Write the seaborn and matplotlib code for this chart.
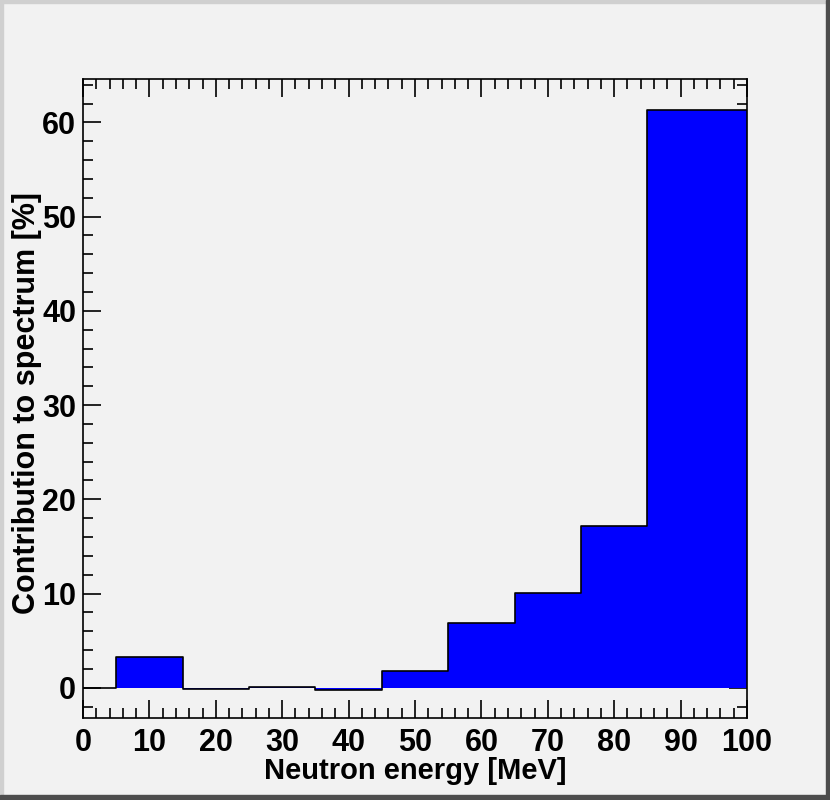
import numpy as np
import seaborn as sns
import matplotlib
matplotlib.use("Agg")
import matplotlib.pyplot as plt
from matplotlib.patches import Rectangle
from matplotlib.ticker import MultipleLocator

# histogram data: neutron energy bins and contribution (%)
bin_edges = [0, 5, 15, 25, 35, 45, 55, 65, 75, 85, 100]
contribution = [0.0, 3.3, -0.1, 0.05, -0.25, 1.8, 6.9, 10.1, 17.2, 61.3]
x_ticks = [0, 10, 20, 30, 40, 50, 60, 70, 80, 90, 100]
y_ticks = [0, 10, 20, 30, 40, 50, 60]

centers = [(a + b) / 2 for a, b in zip(bin_edges[:-1], bin_edges[1:])]

sns.set_style("ticks")
plt.rcParams['font.family'] = ['Liberation Sans', 'DejaVu Sans']
plt.rcParams['font.weight'] = 'bold'
for k in ['text.color', 'axes.labelcolor', 'xtick.color', 'ytick.color']:
    plt.rcParams[k] = 'black'

bg = "#f2f2f2"
fig = plt.figure(figsize=(8.3, 8.0), dpi=100, facecolor=bg)
ax = fig.add_axes([0.1, 0.1025, 0.8, 0.79875])
ax.set_facecolor(bg)

# filled part (no outline) and black step outline on top
sns.histplot(x=centers, weights=contribution, bins=bin_edges, element="step",
             fill=True, color="#0000ff", alpha=1, linewidth=0, ax=ax)
sns.histplot(x=centers, weights=contribution, bins=bin_edges, element="step",
             fill=False, color="black", linewidth=1.2, ax=ax)

ax.set_xlim(0, 100)
ax.set_ylim(-3.2, 64.6)
ax.set_xticks(x_ticks)
ax.set_yticks(y_ticks)
ax.xaxis.set_minor_locator(MultipleLocator(2))
ax.yaxis.set_minor_locator(MultipleLocator(2))
ax.tick_params(which="both", direction="in", top=True, right=True, width=1.2,
               labelsize=22)
ax.tick_params(axis="x", pad=7)
ax.tick_params(axis="y", pad=5)
ax.tick_params(which="major", length=13)
ax.tick_params(which="minor", length=7)
for lab in ax.get_xticklabels() + ax.get_yticklabels():
    lab.set_fontweight("bold")
for sp in ax.spines.values():
    sp.set_linewidth(1.2)
    sp.set_color("black")

ax.set_xlabel("Neutron energy [MeV]", fontsize=21, fontweight="bold")
ax.set_ylabel("Contribution to spectrum [%]", fontsize=22, fontweight="bold")
ax.xaxis.set_label_coords(0.5, -0.061)
ax.yaxis.set_label_coords(-0.061, 0.493)

# ROOT style canvas bevel
fig.patches.append(Rectangle((0, 0), 0.004, 1, transform=fig.transFigure,
                             color="#d0d0d0", zorder=10))
fig.patches.append(Rectangle((0, 0.996), 1, 0.004, transform=fig.transFigure,
                             color="#d0d0d0", zorder=10))
fig.patches.append(Rectangle((0.995, 0), 0.005, 1, transform=fig.transFigure,
                             color="#4d4d4d", zorder=10))
fig.patches.append(Rectangle((0, 0), 1, 0.006, transform=fig.transFigure,
                             color="#4d4d4d", zorder=10))

fig.savefig("out.png", dpi=100, facecolor=bg)
